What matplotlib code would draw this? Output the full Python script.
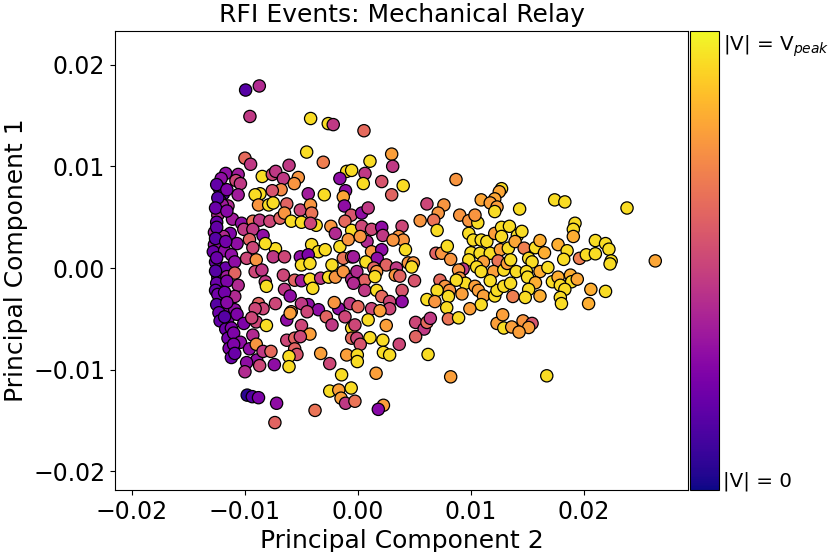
import numpy as np
import matplotlib
matplotlib.use("Agg")
import matplotlib.pyplot as plt

# PCA coordinates, in units of 1e-3
# pc2 -> x axis, pc1 -> y axis, v -> |V| / V_peak colour
pts = [
    # upper left
    (-9.94, 17.5, 0.15), (-8.73, 17.9, 0.40), (-9.56, 14.9, 0.45), (-4.19, 14.7, 0.93),
    (-2.63, 14.2, 0.93), (-2.19, 14.1, 0.45), (-4.54, 11.4, 0.93), (-3.07, 10.4, 0.68),
    (-10.0, 10.8, 0.62), (-9.5, 10.2, 0.45), (-6.1, 10.1, 0.45), (-11.7, 9.3, 0.30),
    (-10.6, 9.2, 0.35), (-12.1, 8.8, 0.30), (-10.8, 8.6, 0.50), (-10.4, 8.3, 0.45),
    (-12.3, 7.9, 0.20), (-11.9, 7.3, 0.15), (-10.6, 7.2, 0.35), (-8.47, 9.0, 0.93),
    (-7.58, 9.2, 0.50), (-7.28, 9.5, 0.45), (-6.6, 8.8, 0.45), (-5.28, 8.9, 0.75),
    (-5.64, 8.3, 0.75), (-6.8, 7.7, 0.72), (-7.58, 7.6, 0.55), (-8.67, 7.3, 0.93),
    (-9.1, 7.2, 0.93), (-4.4, 7.3, 0.35), (-2.98, 7.2, 0.93), (-1.0, 9.5, 0.92),
    (-0.56, 9.6, 0.93), (-1.6, 8.8, 0.30), (-1.1, 7.6, 0.30), (-1.3, 7.0, 0.80),
    # upper middle
    (0.53, 13.5, 0.62), (2.98, 11.2, 0.78), (3.07, 10.0, 0.45), (1.06, 10.5, 0.93),
    (0.62, 9.3, 0.45), (0.47, 8.3, 0.93), (2.1, 8.5, 0.55), (4.0, 8.1, 0.93),
    (2.98, 7.2, 0.60), (8.67, 8.7, 0.75), (12.7, 7.8, 0.93), (12.5, 7.5, 0.80),
    (12.1, 6.8, 0.80), (10.9, 6.7, 0.80),
    # left, central band
    (-12.2, 6.6, 0.30), (-11.5, 6.1, 0.40), (-12.0, 6.2, 0.35), (-8.8, 6.2, 0.75),
    (-7.9, 6.2, 0.93), (-7.5, 6.4, 0.93), (-6.3, 6.3, 0.60), (-5.1, 5.7, 0.50),
    (-4.2, 6.2, 0.75), (-4.1, 5.4, 0.65), (-1.2, 6.1, 0.30), (-0.6, 5.2, 0.55),
    (-12.4, 5.2, 0.40), (-12.5, 4.5, 0.20), (-11.1, 4.8, 0.35), (-10.3, 4.4, 0.30),
    (-9.3, 4.6, 0.65), (-8.7, 4.7, 0.45), (-7.8, 4.6, 0.50), (-6.9, 4.9, 0.60),
    (-6.5, 5.4, 0.75), (-5.9, 4.6, 0.93), (-5.0, 4.5, 0.93), (-3.7, 4.2, 0.93),
    (-4.2, 4.4, 0.50), (-2.4, 4.1, 0.75), (-2.0, 3.4, 0.40), (-1.15, 4.6, 0.62),
    (-0.56, 3.7, 0.93), (-12.7, 3.5, 0.35), (-11.3, 3.4, 0.25), (-11.9, 3.1, 0.40),
    (-10.1, 3.8, 0.45), (-9.3, 3.8, 0.45), (-8.4, 3.2, 0.30), (-10.7, 2.4, 0.30),
    (-12.7, 2.3, 0.30), (-9.6, 2.8, 0.60), (-7.3, 1.9, 0.93), (-9.3, 2.0, 0.50),
    (-8.2, 2.4, 0.93), (-4.1, 2.3, 0.93), (-3.5, 1.6, 0.93), (-2.9, 1.8, 0.93),
    (-1.6, 2.1, 0.93), (-0.86, 2.8, 0.75), (-12.8, 1.6, 0.20), (-11.8, 1.7, 0.30),
    (-11.2, 1.3, 0.30), (-12.6, 0.6, 0.20), (-11.7, 0.0, 0.20), (-10.9, 0.6, 0.30),
    (-9.85, 0.95, 0.50), (-9.0, 0.8, 0.75), (-7.5, 1.1, 0.45), (-6.5, 1.1, 0.50),
    (-5.1, 1.1, 0.30), (-4.4, 1.3, 0.25), (-5.0, 0.3, 0.93), (-4.25, 0.45, 0.93),
    (-2.3, 0.3, 0.93), (-1.3, 0.95, 0.65), (-0.56, 1.1, 0.75), (-12.4, -0.9, 0.20),
    (-11.6, -0.85, 0.35), (-10.9, -0.5, 0.60), (-10.6, -1.7, 0.40), (-9.1, -0.36, 0.50),
    (-8.5, -0.2, 0.45), (-8.2, -1.35, 0.45), (-8.1, -1.8, 0.93), (-6.6, -0.7, 0.50),
    (-6.5, -2.1, 0.45), (-5.6, -1.2, 0.60), (-5.0, -1.25, 0.35), (-4.25, -1.1, 0.93),
    (-3.3, -1.0, 0.45), (-2.6, -0.9, 0.93), (-2.0, -0.9, 0.75), (-1.3, -0.36, 0.75),
    (-0.56, -1.1, 0.40), (-4.0, -2.0, 0.93), (-6.0, -2.75, 0.30), (-12.1, -3.1, 0.20),
    (-10.9, -2.8, 0.40), (-8.8, -3.5, 0.60), (-8.4, -4.0, 0.50), (-7.3, -3.5, 0.50),
    (-9.1, -4.0, 0.50), (-4.4, -3.6, 0.30), (-5.0, -3.5, 0.45), (-3.5, -4.1, 0.30),
    (-1.7, -4.0, 0.30), (-2.1, -3.4, 0.75), (-0.7, -3.5, 0.45), (-5.9, -4.3, 0.75),
    (-11.8, -4.0, 0.30), (-10.9, -4.1, 0.30),
    # dense left strip
    (-12.5, 8.2, 0.18), (-12.4, 6.9, 0.15), (-12.6, 5.9, 0.20), (-12.5, 4.0, 0.18),
    (-12.6, 2.9, 0.15), (-12.5, 1.0, 0.20), (-12.6, -0.3, 0.15), (-12.5, -1.5, 0.20),
    (-12.6, -2.2, 0.18), (-12.4, -2.6, 0.22), (-12.5, -3.6, 0.15), (-12.3, -4.4, 0.20),
    (-12.2, -5.2, 0.18), (-11.6, 7.7, 0.25), (-11.6, 5.6, 0.28), (-11.7, 2.6, 0.22),
    (-11.6, -1.3, 0.25), (-11.8, -2.4, 0.22), (-11.6, -3.4, 0.28), (-11.5, -5.0, 0.25),
    (-11.7, -6.0, 0.20), (-11.5, -6.9, 0.22), (-11.4, -7.9, 0.25), (-11.2, -8.8, 0.20),
    # middle band
    (0.33, 5.4, 0.30), (0.9, 5.9, 0.45), (6.1, 6.3, 0.50), (7.6, 6.2, 0.75),
    (7.1, 5.4, 0.75), (5.5, 4.65, 0.75), (6.7, 4.7, 0.65), (7.0, 3.7, 0.93),
    (9.0, 5.2, 0.75), (9.8, 4.65, 0.75), (10.6, 4.45, 0.93), (10.35, 5.2, 0.75),
    (11.7, 6.4, 0.78), (12.3, 6.0, 0.78), (12.1, 5.55, 0.93), (0.33, 4.1, 0.50),
    (1.2, 3.8, 0.50), (2.1, 4.0, 0.30), (2.2, 3.2, 0.45), (3.9, 4.1, 0.50),
    (3.6, 3.1, 0.75), (4.0, 2.75, 0.75), (4.2, 1.8, 0.93), (3.1, 2.75, 0.75),
    (0.8, 2.6, 0.40), (0.2, 3.1, 0.75), (1.2, 1.6, 0.75), (2.1, 1.8, 0.30),
    (1.7, 0.95, 0.30), (-0.4, 1.1, 0.35), (0.7, 0.6, 0.93), (1.4, 0.0, 0.60),
    (2.5, 0.3, 0.60), (3.4, 0.0, 0.45), (3.3, -0.7, 0.75), (4.45, 0.5, 0.75),
    (4.9, 0.5, 0.75), (4.75, 0.1, 0.93), (5.0, -1.25, 0.55), (3.7, -0.8, 0.60),
    (6.9, 1.45, 0.60), (7.4, 1.45, 0.75), (7.9, 2.15, 0.93), (8.2, 0.85, 0.75),
    (9.8, 3.4, 0.93), (10.2, 2.75, 0.93), (10.9, 2.75, 0.93), (11.4, 2.6, 0.93),
    (12.1, 3.4, 0.78), (12.7, 4.0, 0.93), (13.4, 4.1, 0.93), (12.7, 3.1, 0.93),
    (10.0, 1.5, 0.93), (10.8, 1.45, 0.93), (11.7, 1.45, 0.93), (12.6, 1.8, 0.78),
    (13.3, 1.95, 0.93), (9.8, 0.8, 0.93), (11.1, 0.6, 0.78), (12.4, 0.7, 0.65),
    (10.5, 0.1, 0.93), (10.9, -0.35, 0.93), (12.0, -0.35, 0.78), (12.9, -0.2, 0.93),
    (13.2, 0.45, 0.78), (9.3, -0.1, 0.45), (8.9, -0.2, 0.75), (9.0, -1.0, 0.75),
    (9.5, -1.5, 0.93), (8.7, -1.2, 0.93), (10.35, -1.8, 0.78), (10.65, -2.2, 0.78),
    (7.25, -1.2, 0.62), (7.7, -1.8, 0.75), (8.1, -2.2, 0.75), (8.0, -2.8, 0.93),
    (7.0, -2.2, 0.93), (6.1, -3.1, 0.93), (6.8, -3.3, 0.75), (7.85, -3.9, 0.93),
    (9.2, -2.55, 0.78), (11.1, -2.75, 0.78), (12.1, -2.75, 0.93), (12.3, -2.2, 0.93),
    (12.9, -1.8, 0.93), (10.9, -3.6, 0.93), (11.7, -1.25, 0.93), (-0.1, -0.35, 0.40),
    (0.6, -1.2, 0.60), (1.65, -0.35, 0.75), (1.5, -0.85, 0.93), (0.6, -2.2, 0.45),
    (-0.4, -1.5, 0.40), (1.65, -2.2, 0.93), (2.1, -2.8, 0.62), (3.9, -2.2, 0.55),
    (3.9, -3.3, 0.30), (2.8, -3.3, 0.50), (1.2, -4.0, 0.50), (0.0, -3.8, 0.62),
    # right side
    (17.4, 6.7, 0.93), (18.3, 6.5, 0.93), (14.3, 5.8, 0.93), (23.8, 5.9, 0.93),
    (19.2, 4.4, 0.93), (19.05, 3.8, 0.93), (19.05, 3.1, 0.82), (14.1, 3.2, 0.93),
    (14.5, 3.6, 0.93), (13.9, 2.6, 0.80), (14.7, 1.95, 0.68), (15.7, 2.0, 0.93),
    (16.1, 2.7, 0.82), (16.5, 1.5, 0.82), (15.1, 0.95, 0.93), (15.4, 0.6, 0.93),
    (13.5, 0.8, 0.93), (17.7, 2.3, 0.82), (18.5, 1.7, 0.93), (18.2, 0.85, 0.93),
    (19.6, 0.95, 0.68), (20.2, 1.3, 0.93), (21.0, 1.4, 0.93), (21.0, 2.7, 0.93),
    (21.9, 2.4, 0.93), (22.2, 1.85, 0.93), (22.4, 0.7, 0.93), (22.3, 0.4, 0.93),
    (26.3, 0.7, 0.80), (14.0, -0.35, 0.93), (14.9, -0.35, 0.93), (15.0, -0.9, 0.93),
    (16.1, -0.35, 0.82), (16.8, 0.05, 0.93), (15.7, -1.45, 0.82), (13.5, -1.5, 0.93),
    (15.1, -2.1, 0.93), (17.2, -1.35, 0.93), (17.7, -0.9, 0.82), (17.9, -1.7, 0.93),
    (18.8, -0.7, 0.82), (18.9, -1.35, 0.93), (19.4, -1.1, 0.80), (18.3, -2.1, 0.93),
    (20.6, -2.1, 0.82), (21.9, -2.3, 0.93), (13.7, -2.8, 0.68), (14.8, -2.9, 0.93),
    (16.1, -2.75, 0.82), (17.9, -2.9, 0.93), (18.0, -3.5, 0.93), (20.4, -3.5, 0.82),
    # lower left
    (-11.8, -4.8, 0.15), (-10.7, -4.55, 0.25), (-10.1, -5.45, 0.25), (-11.2, -5.9, 0.25),
    (-11.0, -6.4, 0.25), (-10.4, -7.3, 0.30), (-11.0, -7.5, 0.25), (-9.6, -7.95, 0.30),
    (-10.9, -8.4, 0.20), (-8.96, -9.05, 0.30), (-9.85, -9.3, 0.30), (-10.0, -10.2, 0.40),
    (-8.7, -9.6, 0.50), (-9.3, -6.6, 0.40), (-9.0, -7.5, 0.75), (-9.0, -5.3, 0.50),
    (-9.4, -4.9, 0.50), (-8.4, -8.2, 0.45), (-7.7, -8.2, 0.62), (-8.1, -5.65, 0.93),
    (-7.4, -9.5, 0.30), (-9.8, -12.5, 0.05), (-9.35, -12.65, 0.15), (-8.8, -12.75, 0.25),
    (-7.2, -13.3, 0.30), (-7.35, -15.2, 0.60), (-6.3, -5.1, 0.30), (-5.0, -5.65, 0.50),
    (-4.25, -6.5, 0.78), (-6.3, -7.1, 0.50), (-5.6, -6.9, 0.60), (-5.1, -6.75, 0.50),
    (-5.6, -7.95, 0.60), (-5.4, -8.5, 0.55), (-6.1, -8.7, 0.93), (-6.1, -9.7, 0.93),
    (-6.0, -4.45, 0.78), (-4.5, -4.3, 0.50), (-2.8, -4.8, 0.60), (-2.3, -5.6, 0.45),
    (-3.3, -8.4, 0.78), (-2.5, -9.4, 0.50), (-1.45, -10.5, 0.93), (-2.5, -12.1, 0.93),
    (-1.7, -12.0, 0.78), (-1.5, -12.8, 0.78), (-1.1, -13.3, 0.45), (-0.6, -11.8, 0.93),
    (-1.0, -8.55, 0.78), (-0.56, -5.9, 0.93), (-0.56, -6.9, 0.62), (-3.8, -14.0, 0.65),
    (-1.15, -4.8, 0.50),
    # lower middle / right
    (2.8, -4.0, 0.50), (1.95, -4.2, 0.78), (0.9, -5.1, 0.93), (-0.27, -5.6, 0.50),
    (2.5, -5.65, 0.78), (1.06, -6.85, 0.93), (2.2, -7.1, 0.93), (-0.1, -6.9, 0.50),
    (0.2, -7.5, 0.55), (3.65, -7.5, 0.50), (2.25, -8.3, 0.93), (2.8, -8.55, 0.93),
    (-0.06, -8.55, 0.93), (-0.06, -9.2, 0.93), (5.1, -5.35, 0.50), (5.85, -6.0, 0.45),
    (6.1, -5.35, 0.62), (6.4, -4.95, 0.45), (5.1, -6.75, 0.60), (8.0, -5.0, 0.65),
    (8.9, -4.9, 0.93), (9.9, -4.0, 0.78), (6.2, -8.5, 0.93), (1.6, -10.35, 0.78),
    (8.2, -10.7, 0.78), (-0.27, -13.1, 0.65), (2.25, -13.5, 0.78), (1.8, -13.9, 0.28),
    (12.3, -5.45, 0.78), (12.8, -4.6, 0.78), (12.9, -5.9, 0.93), (13.6, -5.8, 0.78),
    (14.6, -5.2, 0.75), (15.4, -5.45, 0.55), (15.1, -5.85, 0.78), (14.25, -6.3, 0.78),
    (16.7, -10.6, 0.93),
]

pc2 = np.array([p[0] for p in pts]) * 1e-3
pc1 = np.array([p[1] for p in pts]) * 1e-3
v = np.array([p[2] for p in pts])

fig = plt.figure(figsize=(8.33, 5.52), dpi=100)
ax = fig.add_axes([0.138, 0.1123, 0.688, 0.832])
cax = fig.add_axes([0.828, 0.1123, 0.035, 0.832])

sc = ax.scatter(pc2, pc1, c=v, cmap="plasma", vmin=0, vmax=1,
                s=78, edgecolors="black", linewidths=0.9)
ax.set_xlim(-0.0215, 0.0292)
ax.set_ylim(-0.02183, 0.02333)
ax.set_xticks([-0.02, -0.01, 0.0, 0.01, 0.02])
ax.set_yticks([-0.02, -0.01, 0.0, 0.01, 0.02])
ax.tick_params(labelsize=17)
ax.set_xlabel("Principal Component 2", fontsize=18)
ax.set_ylabel("Principal Component 1", fontsize=18)
ax.set_title("RFI Events: Mechanical Relay", fontsize=18)

cb = fig.colorbar(sc, cax=cax)
cb.set_ticks([0.025, 0.975])
cb.set_ticklabels(["|V| = 0", r"|V| = V$_{peak}$"])
cb.ax.tick_params(length=0, pad=3, labelsize=14.3)

plt.savefig("out.png", dpi=100)
